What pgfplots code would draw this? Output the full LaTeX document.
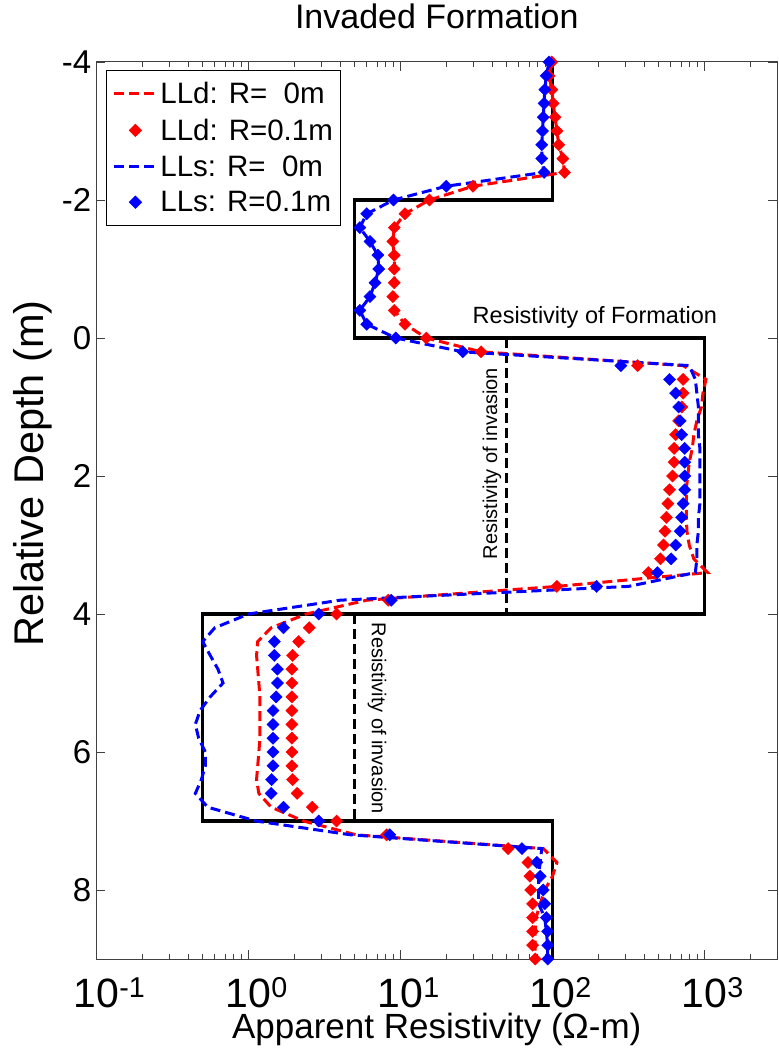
\documentclass[border=0pt]{standalone}
\usepackage{fontspec}
\setmainfont{Liberation Sans}
\usepackage{pgfplots}
\usepackage{pgfplotstable}
\pgfplotsset{compat=1.18}

\pgfplotstableread{
R d
99 -4.0
95 -3.8
99 -3.6
101 -3.4
104 -3.2
107 -3.0
110 -2.8
117 -2.6
120 -2.4
30 -2.2
15.5 -2.0
10.7 -1.8
9.1 -1.6
8.9 -1.4
9.1 -1.2
9.1 -1.0
9.1 -0.8
8.9 -0.6
9.1 -0.4
10.7 -0.2
14.8 0.0
33.9 0.2
724 0.4
1023 0.6
977 0.8
955 1.0
891 1.2
851 1.4
832 1.6
794 1.8
776 2.0
759 2.2
759 2.4
759 2.6
767 2.8
794 3.0
851 3.2
1047 3.4
107 3.6
6.0 3.8
2.4 4.0
1.41 4.2
1.15 4.4
1.13 4.6
1.15 4.8
1.17 5.0
1.19 5.2
1.19 5.4
1.19 5.6
1.19 5.8
1.17 6.0
1.15 6.2
1.13 6.4
1.17 6.6
1.41 6.8
2.3 7.0
5.1 7.2
87 7.4
107 7.6
100 7.8
89 8.0
83 8.2
78 8.4
77 8.6
77 8.8
77 9.0
}\lldline

\pgfplotstableread{
R d
99 -4.0
95 -3.8
99 -3.6
101 -3.4
104 -3.2
107 -3.0
110 -2.8
117 -2.6
120 -2.4
30 -2.2
15.5 -2.0
10.7 -1.8
9.1 -1.6
8.9 -1.4
9.1 -1.2
9.1 -1.0
9.1 -0.8
8.9 -0.6
9.1 -0.4
10.7 -0.2
14.8 0.0
33.9 0.2
363 0.4
724 0.6
724 0.8
708 1.0
676 1.2
646 1.4
631 1.6
631 1.8
617 2.0
589 2.2
575 2.4
562 2.6
550 2.8
537 3.0
513 3.2
427 3.4
107 3.6
8.3 3.8
3.8 4.0
2.51 4.2
2.14 4.4
1.95 4.6
1.93 4.8
1.93 5.0
1.93 5.2
1.93 5.4
1.93 5.6
1.93 5.8
1.93 6.0
1.93 6.2
1.95 6.4
2.09 6.6
2.63 6.8
3.8 7.0
8.1 7.2
51 7.4
69 7.6
71 7.8
72 8.0
74 8.2
74 8.4
74 8.6
74 8.8
77 9.0
}\lldmark

\pgfplotstableread{
R d
95 -4.0
91 -3.8
89 -3.6
88 -3.4
87 -3.2
86 -3.0
85 -2.8
85 -2.6
88 -2.4
20 -2.2
9.0 -2.0
6.0 -1.8
5.4 -1.6
6.3 -1.4
7.1 -1.2
7.2 -1.0
6.8 -0.8
6.3 -0.6
5.4 -0.4
6.0 -0.2
9.3 0.0
25.7 0.2
794 0.4
871 0.6
891 0.8
912 1.0
912 1.2
912 1.4
933 1.6
933 1.8
933 2.0
933 2.2
933 2.4
912 2.6
912 2.8
891 3.0
891 3.2
871 3.4
316 3.6
4.0 3.8
1.0 4.0
0.60 4.2
0.50 4.4
0.56 4.6
0.63 4.8
0.68 5.0
0.56 5.2
0.48 5.4
0.447 5.6
0.47 5.8
0.52 6.0
0.52 6.2
0.49 6.4
0.447 6.6
0.54 6.8
1.12 7.0
4.7 7.2
85 7.4
83 7.6
81 7.8
81 8.0
81 8.2
89 8.4
91 8.6
93 8.8
93 9.0
}\llsline

\pgfplotstableread{
R d
95 -4.0
91 -3.8
89 -3.6
88 -3.4
87 -3.2
86 -3.0
85 -2.8
85 -2.6
88 -2.4
20 -2.2
9.0 -2.0
6.0 -1.8
5.4 -1.6
6.3 -1.4
7.1 -1.2
7.2 -1.0
6.8 -0.8
6.3 -0.6
5.4 -0.4
6.0 -0.2
9.3 0.0
25.7 0.2
282 0.4
589 0.6
646 0.8
676 1.0
692 1.2
708 1.4
741 1.6
741 1.8
741 2.0
741 2.2
724 2.4
708 2.6
692 2.8
646 3.0
603 3.2
490 3.4
195 3.6
8.7 3.8
2.9 4.0
1.70 4.2
1.48 4.4
1.48 4.6
1.55 4.8
1.55 5.0
1.52 5.2
1.45 5.4
1.45 5.6
1.45 5.8
1.45 6.0
1.45 6.2
1.42 6.4
1.41 6.6
1.70 6.8
2.9 7.0
8.5 7.2
63 7.4
79 7.6
83 7.8
87 8.0
89 8.2
91 8.4
93 8.6
93 8.8
93 9.0
}\llsmark

\begin{document}
\begin{tikzpicture}
\useasboundingbox (0,0) rectangle (779pt,1050pt);
\begin{axis}[
  at={(96.5pt,91pt)}, anchor=south west,
  scale only axis, width=680.5pt, height=897pt,
  xmode=log, xmin=0.1, xmax=3000,
  ymin=-4, ymax=9, y dir=reverse,
  ytick={-4,-2,0,2,4,6,8}, yticklabels={-4,-2,0,2,4,6,8},
  xtick={0.1,1,10,100,1000},
  xticklabels={10\rlap{\textsuperscript{-1}},10\rlap{\textsuperscript{0}},10\rlap{\textsuperscript{1}},10\rlap{\textsuperscript{2}},10\rlap{\textsuperscript{3}}},
  minor xtick={0.2,0.3,0.4,0.5,0.6,0.7,0.8,0.9,2,3,4,5,6,7,8,9,20,30,40,50,60,70,80,90,200,300,400,500,600,700,800,900,2000},
  tick align=inside,
  major tick length=9pt, minor tick length=5pt,
  axis line style={line width=1pt, black!75},
  every tick/.style={line width=0.8pt, black!75},
  xticklabel style={font=\fontsize{41}{41}\selectfont, anchor=base, inner sep=0pt, yshift=-48pt},
  yticklabel style={font=\fontsize{33}{33}\selectfont, anchor=east, inner sep=0pt, xshift=-5pt},
  title={Invaded Formation},
  title style={font=\fontsize{34}{34}\selectfont, at={(0.5,1)}, anchor=base, inner sep=0pt, yshift=27pt},
  xlabel={Apparent Resistivity (Ω-m)},
  xlabel style={font=\fontsize{35}{35}\selectfont, at={(0.5,0)}, anchor=base, inner sep=0pt, yshift=-79pt},
  ylabel={Relative Depth (m)},
  ylabel style={font=\fontsize{41.5}{41.5}\selectfont, at={(-0.094,0.5415)}, anchor=center, inner sep=0pt},
  legend style={at={(0.014,0.991)}, anchor=north west, draw=black, line width=0.8pt,
    font=\fontsize{29.5}{29.5}\selectfont, fill=white, inner xsep=6pt, inner ysep=10pt, row sep=9.6pt,
    legend cell align=left},
  legend cell align=left,
  legend image code/.code={\draw[mark repeat=2,mark phase=2] plot coordinates {(0pt,0pt) (21.5pt,0pt) (43pt,0pt)};},
]
\addplot[black, line width=3.5pt, forget plot] coordinates {
 (100,-4) (100,-2) (5,-2) (5,0) (1000,0) (1000,4) (0.5,4) (0.5,7) (100,7) (100,9)};
\addplot[black, line width=3pt, dash pattern=on 10pt off 5pt, forget plot] coordinates {(50,0) (50,4)};
\addplot[black, line width=3pt, dash pattern=on 10pt off 5pt, forget plot] coordinates {(5,4) (5,7)};

\addplot[red, line width=3pt, dash pattern=on 10pt off 5pt, no marks] table[x=R, y=d] {\lldline};
\addlegendentry{LLd: R=\hspace{0.556em}0m}
\addplot[red, only marks, mark=square*, mark size=4.3pt, mark options={rotate=45, solid, fill=red}] table[x=R, y=d] {\lldmark};
\addlegendentry{LLd: R=0.1m}
\addplot[blue, line width=3pt, dash pattern=on 10pt off 5pt, no marks] table[x=R, y=d] {\llsline};
\addlegendentry{LLs: R=\hspace{0.556em}0m}
\addplot[blue, only marks, mark=square*, mark size=4.3pt, mark options={rotate=45, solid, fill=blue}] table[x=R, y=d] {\llsmark};
\addlegendentry{LLs: R=0.1m}

\node[font=\fontsize{23.5}{23.5}\selectfont] at (axis cs:190,-0.3) {Resistivity of Formation};
\node[rotate=90, font=\fontsize{20}{20}\selectfont] at (axis cs:40,1.82) {Resistivity of invasion};
\node[rotate=-90, font=\fontsize{20}{20}\selectfont] at (axis cs:7.0,5.51) {Resistivity of invasion};
\end{axis}
\end{tikzpicture}
\end{document}
